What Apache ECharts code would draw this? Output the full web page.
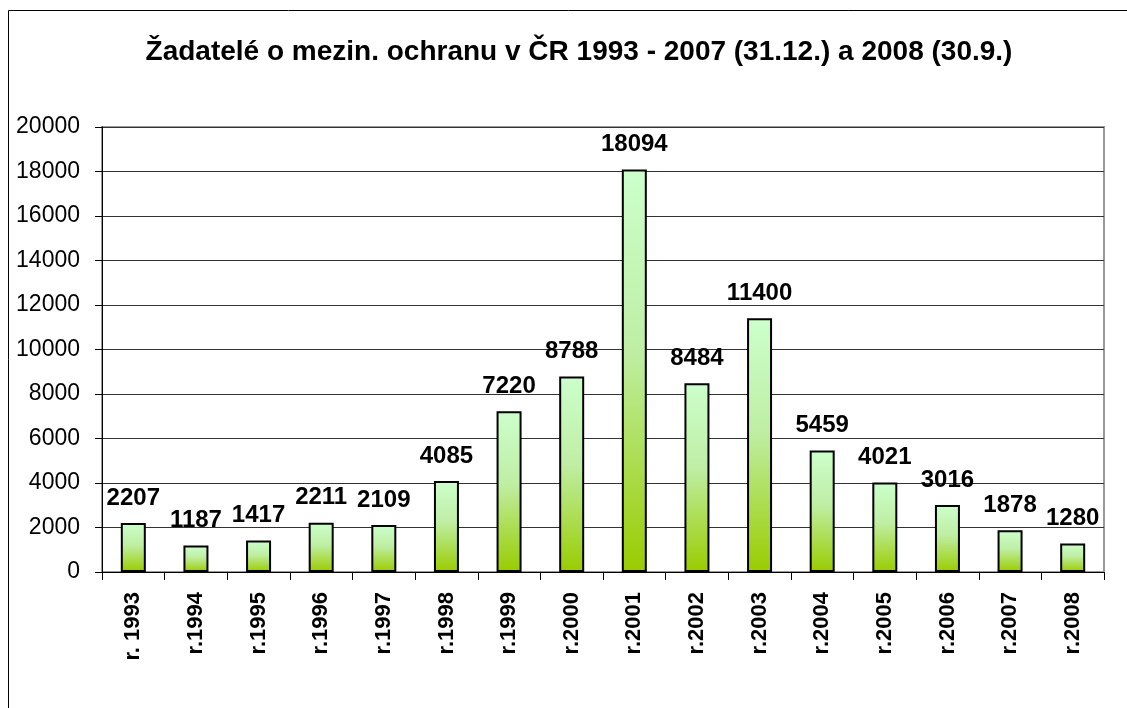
<!DOCTYPE html>
<html>
<head>
<meta charset="utf-8">
<script src="https://cdn.jsdelivr.net/npm/echarts@6/dist/echarts.min.js"></script>
<style>
  html, body { margin: 0; padding: 0; background: #fff; }
  #chart { width: 1127px; height: 708px; }
</style>
</head>
<body>
<div id="chart"></div>
<script>
const titleText = 'Žadatelé o mezin. ochranu v ČR 1993 - 2007 (31.12.) a 2008 (30.9.)'
const years = ['r. 1993', 'r.1994', 'r.1995', 'r.1996', 'r.1997', 'r.1998', 'r.1999', 'r.2000',
  'r.2001', 'r.2002', 'r.2003', 'r.2004', 'r.2005', 'r.2006', 'r.2007', 'r.2008']
const applicants = [2207, 1187, 1417, 2211, 2109, 4085, 7220, 8788,
  18094, 8484, 11400, 5459, 4021, 3016, 1878, 1280]
const yTicks = [0, 20000, 2000]

const chart = echarts.init(document.getElementById('chart'))
const fontFamily = 'Liberation Sans, Arial, sans-serif'

const option = {
  animation: false,
  backgroundColor: '#fff',
  title: {
    text: titleText,
    left: 574,
    top: 33,
    textAlign: 'center',
    textStyle: { fontFamily, fontSize: 28, fontWeight: 'bold', color: '#000' }
  },
  graphic: [{
    type: 'rect',
    shape: { x: 8.5, y: 10.5, width: 1300, height: 900 },
    style: { fill: 'none', stroke: '#000', lineWidth: 1 },
    silent: true,
    z: -1
  }],
  grid: {
    left: 102,
    right: 23,
    top: 127,
    bottom: 136,
    show: true,
    borderColor: '#999',
    borderWidth: 2,
    backgroundColor: 'transparent'
  },
  xAxis: {
    type: 'category',
    data: years,
    axisLine: { lineStyle: { color: '#000', width: 1 } },
    axisTick: { show: true, length: 8, lineStyle: { color: '#000' } },
    axisLabel: {
      rotate: 90,
      margin: 20,
      fontFamily,
      fontSize: 22,
      fontWeight: 'bold',
      color: '#000'
    }
  },
  yAxis: {
    type: 'value',
    min: yTicks[0],
    max: yTicks[1],
    interval: yTicks[2],
    axisLine: { show: true, lineStyle: { color: '#000' } },
    axisTick: { show: true, length: 7, inside: false, lineStyle: { color: '#000' } },
    axisLabel: {
      fontFamily,
      fontSize: 23,
      color: '#000',
      margin: 22,
      formatter: (v) => String(v)
    },
    splitLine: { show: true, lineStyle: { color: '#333', width: 1 } }
  },
  series: [{
    type: 'bar',
    data: applicants,
    barWidth: 25,
    itemStyle: {
      borderColor: '#000',
      borderWidth: 2,
      color: new echarts.graphic.LinearGradient(0, 0, 0, 1, [
        { offset: 0, color: '#ccffcc' },
        { offset: 0.45, color: '#bfeea4' },
        { offset: 1, color: '#99cc00' }
      ])
    },
    label: {
      show: true,
      position: 'top',
      distance: 13,
      fontFamily,
      fontSize: 24,
      fontWeight: 'bold',
      color: '#000'
    }
  }]
}
chart.setOption(option)
</script>
</body>
</html>
